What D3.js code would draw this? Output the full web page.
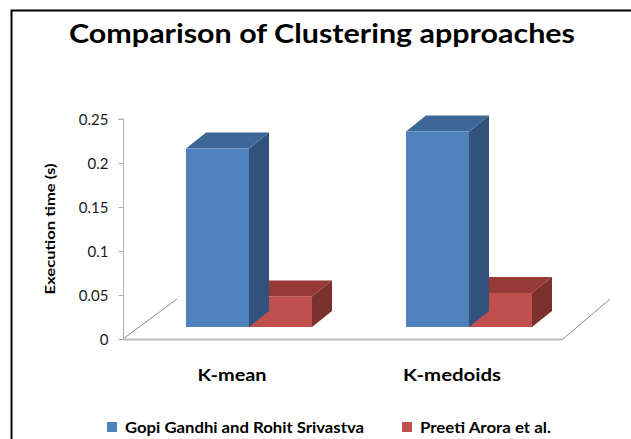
<!DOCTYPE html>
<html><head><meta charset="utf-8">
<script src="https://cdn.jsdelivr.net/npm/d3@7"></script>
<style>body{margin:0;background:#fff}svg{display:block}</style>
</head><body>
<script>
const categories = ["K-mean", "K-medoids"];
const seriesNames = ["Gopi Gandhi and Rohit Srivastva", "Preeti Arora et al."];
const gopiValues = [0.21, 0.23];
const preetiValues = [0.036, 0.04];
const yTicks = [0, 0.05, 0.1, 0.15, 0.2, 0.25];
const tickLabels = ["0", "0.05", "0.1", "0.15", "0.2", "0.25"];
const title = "Comparison of Clustering approaches";
const yTitle = "Execution time (s)";

const W = 631, H = 439;
const svg = d3.select("body").append("svg").attr("width", W).attr("height", H);
const font = "Lato, 'Open Sans', sans-serif";

// frame
svg.append("path").attr("d", `M11.5,${H} L11.5,10.5 L${W},10.5`).attr("fill","none").attr("stroke","#000").attr("stroke-width",2);

svg.append("text").attr("x", 322).attr("y", 43).attr("text-anchor","middle")
  .attr("font-family", font).attr("font-weight","bold").attr("font-size",27)
  .attr("textLength", 506).attr("lengthAdjust","spacingAndGlyphs")
  .attr("fill","#000").text(title);

// front plane scales
const y = d3.scaleLinear().domain([0, 0.25]).range([339, 119]);
const x = d3.scaleBand().domain(categories).range([123, 563]);
// depth offsets
const barDepthOff = {dx: 16, dy: -12};
const barThick = {dx: 20, dy: -16};
const floorDepth = {dx: 52, dy: -40};
const yBar = d3.scaleLinear().domain([0, 0.25]).range([y(0) + barDepthOff.dy, y(0) + barDepthOff.dy - 0.25 * 850]);
const barW = 63;

// floor
const g = svg.append("g");
g.append("line").attr("x1", x.range()[0]).attr("y1", y(0)).attr("x2", x.range()[0] + floorDepth.dx + 2).attr("y2", y(0) + floorDepth.dy)
  .attr("stroke","#8c8c8c").attr("stroke-width",1);
g.append("line").attr("x1", x.range()[1]).attr("y1", y(0)).attr("x2", x.range()[1] + floorDepth.dx - 5).attr("y2", y(0) + floorDepth.dy)
  .attr("stroke","#8c8c8c").attr("stroke-width",1);
g.append("line").attr("x1", x.range()[0]).attr("y1", y(0)+0.5).attr("x2", x.range()[1]).attr("y2", y(0)+0.5)
  .attr("stroke","#c0c0c0").attr("stroke-width",2);

// y axis
const axis = d3.axisLeft(y).tickValues(yTicks).tickFormat((d,i)=>tickLabels[i]).tickSize(5).tickPadding(10);
const ag = svg.append("g").attr("transform", `translate(${x.range()[0]+0.5},0)`).call(axis);
ag.select(".domain").attr("stroke","#b0b0b0").attr("d", `M-5,${y(0.25)}H0V${y(0)}`);
ag.selectAll(".tick line").attr("stroke","#b0b0b0");
ag.selectAll(".tick text").attr("font-family", font).attr("font-size",15).attr("fill","#1a1a1a").attr("dy","0.35em");

svg.append("text").attr("transform", `translate(55,229) rotate(-90)`).attr("text-anchor","middle")
  .attr("font-family", font).attr("font-weight","bold").attr("font-size",14)
  .attr("textLength", 131).attr("lengthAdjust","spacingAndGlyphs")
  .attr("fill","#000").text(yTitle);

// bars
const colors = [
  {front:"#4F81BD", top:"#3D6797", side:"#30527C"},
  {front:"#C0504D", top:"#953A37", side:"#7A302D"}
];
const series = [gopiValues, preetiValues];
function drawBar(x0, v, c) {
  const yt = yBar(v), yb = yBar(0), x1 = x0 + barW;
  const dx = barThick.dx, dy = barThick.dy;
  g.append("path").attr("d", `M${x1},${yt}L${x1+dx},${yt+dy}L${x1+dx},${yb+dy}L${x1},${yb}Z`).attr("fill", c.side);
  g.append("path").attr("d", `M${x0},${yt}L${x0+dx},${yt+dy}L${x1+dx},${yt+dy}L${x1},${yt}Z`).attr("fill", c.top);
  g.append("rect").attr("x", x0).attr("y", yt).attr("width", barW).attr("height", yb - yt).attr("fill", c.front);
}
categories.forEach((cat, ci) => {
  const cx = x(cat) + x.bandwidth()/2 + barDepthOff.dx;
  for (let si = series.length - 1; si >= 0; si--) {
    drawBar(cx - barW + si*barW, series[si][ci], colors[si]);
  }
});

// category labels
const catLen = [69, 98];
categories.forEach((cat, i) => {
  svg.append("text").attr("x", x(cat) + x.bandwidth()/2 - 1).attr("y", 381).attr("text-anchor","middle")
    .attr("font-family", font).attr("font-weight","bold").attr("font-size",17)
    .attr("textLength", catLen[i]).attr("lengthAdjust","spacingAndGlyphs")
    .attr("fill","#000").text(cat);
});

// legend
const legX = [107, 402];
const legLen = [239, 131];
seriesNames.forEach((n, i) => {
  svg.append("rect").attr("x", legX[i]).attr("y", 422).attr("width", 10).attr("height", 10).attr("fill", colors[i].front);
  svg.append("text").attr("x", legX[i] + 18).attr("y", 433).attr("font-family", font).attr("font-weight","bold")
    .attr("font-size",14.5).attr("textLength", legLen[i]).attr("lengthAdjust","spacingAndGlyphs")
    .attr("fill","#000").text(n);
});
</script>
</body></html>
